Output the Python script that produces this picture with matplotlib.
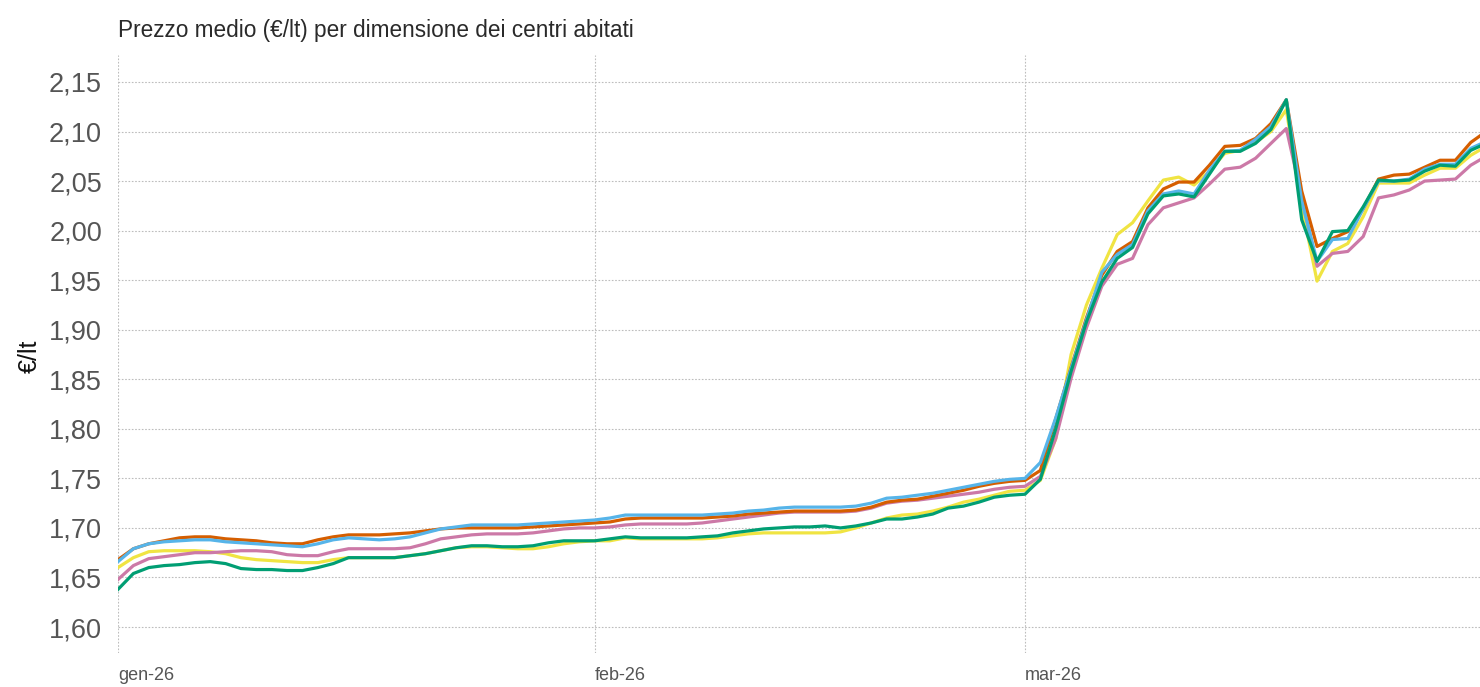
import numpy as np
import pandas as pd
import matplotlib
matplotlib.use("Agg")
import matplotlib.pyplot as plt
import matplotlib.dates as mdates

plt.rcParams['font.family'] = ['Liberation Sans', 'DejaVu Sans']

# giorni dal 1 gennaio 2026
dates = pd.date_range('2026-01-01', periods=90, freq='D')

arancio = [
    1.668, 1.679, 1.684, 1.687, 1.690, 1.691, 1.691, 1.689, 1.688, 1.687,
    1.685, 1.684, 1.684, 1.688, 1.691, 1.693, 1.693, 1.693, 1.694, 1.695,
    1.697, 1.699, 1.700, 1.700, 1.700, 1.700, 1.700, 1.701, 1.702, 1.703,
    1.704, 1.705, 1.706, 1.709, 1.710, 1.710, 1.710, 1.710, 1.710, 1.711,
    1.712, 1.714, 1.715, 1.716, 1.717, 1.717, 1.717, 1.717, 1.718, 1.721,
    1.726, 1.728, 1.729, 1.732, 1.735, 1.738, 1.742, 1.745, 1.747, 1.748,
    1.758, 1.810, 1.862, 1.912, 1.955, 1.979, 1.989, 2.023, 2.042, 2.049,
    2.049, 2.066, 2.085, 2.086, 2.093, 2.108, 2.132, 2.040, 1.984, 1.992,
    1.999, 2.022, 2.052, 2.056, 2.057, 2.064, 2.071, 2.071, 2.089, 2.100,
]
azzurro = [
    1.666, 1.679, 1.684, 1.686, 1.687, 1.688, 1.688, 1.686, 1.685, 1.684,
    1.683, 1.682, 1.681, 1.684, 1.688, 1.690, 1.689, 1.688, 1.689, 1.691,
    1.695, 1.699, 1.701, 1.703, 1.703, 1.703, 1.703, 1.704, 1.705, 1.706,
    1.707, 1.708, 1.710, 1.713, 1.713, 1.713, 1.713, 1.713, 1.713, 1.714,
    1.715, 1.717, 1.718, 1.720, 1.721, 1.721, 1.721, 1.721, 1.722, 1.725,
    1.730, 1.731, 1.733, 1.735, 1.738, 1.741, 1.744, 1.747, 1.749, 1.750,
    1.766, 1.811, 1.861, 1.910, 1.958, 1.976, 1.986, 2.020, 2.037, 2.040,
    2.037, 2.061, 2.080, 2.081, 2.092, 2.105, 2.132, 2.030, 1.969, 1.991,
    1.992, 2.022, 2.050, 2.050, 2.052, 2.062, 2.067, 2.067, 2.083, 2.090,
]
rosa = [
    1.648, 1.662, 1.669, 1.671, 1.673, 1.675, 1.675, 1.676, 1.677, 1.677,
    1.676, 1.673, 1.672, 1.672, 1.676, 1.679, 1.679, 1.679, 1.679, 1.680,
    1.684, 1.689, 1.691, 1.693, 1.694, 1.694, 1.694, 1.695, 1.697, 1.699,
    1.700, 1.700, 1.701, 1.703, 1.704, 1.704, 1.704, 1.704, 1.705, 1.707,
    1.709, 1.711, 1.713, 1.715, 1.716, 1.716, 1.716, 1.716, 1.717, 1.720,
    1.725, 1.727, 1.728, 1.730, 1.732, 1.734, 1.736, 1.739, 1.741, 1.742,
    1.752, 1.790, 1.851, 1.902, 1.944, 1.966, 1.972, 2.006, 2.023, 2.028,
    2.033, 2.047, 2.062, 2.064, 2.073, 2.088, 2.103, 2.034, 1.964, 1.977,
    1.979, 1.994, 2.033, 2.036, 2.041, 2.050, 2.051, 2.052, 2.066, 2.075,
]
giallo = [
    1.660, 1.670, 1.676, 1.677, 1.677, 1.677, 1.676, 1.674, 1.670, 1.668,
    1.667, 1.666, 1.665, 1.665, 1.668, 1.670, 1.670, 1.670, 1.670, 1.672,
    1.674, 1.677, 1.680, 1.681, 1.681, 1.680, 1.679, 1.679, 1.681, 1.684,
    1.686, 1.687, 1.687, 1.690, 1.689, 1.689, 1.689, 1.689, 1.689, 1.690,
    1.692, 1.694, 1.695, 1.695, 1.695, 1.695, 1.695, 1.696, 1.700, 1.705,
    1.710, 1.713, 1.714, 1.717, 1.721, 1.726, 1.729, 1.733, 1.737, 1.738,
    1.748, 1.790, 1.875, 1.925, 1.962, 1.996, 2.008, 2.030, 2.051, 2.054,
    2.046, 2.060, 2.078, 2.081, 2.089, 2.100, 2.122, 2.025, 1.949, 1.979,
    1.987, 2.014, 2.048, 2.048, 2.048, 2.056, 2.063, 2.063, 2.076, 2.085,
]
verde = [
    1.638, 1.654, 1.660, 1.662, 1.663, 1.665, 1.666, 1.664, 1.659, 1.658,
    1.658, 1.657, 1.657, 1.660, 1.664, 1.670, 1.670, 1.670, 1.670, 1.672,
    1.674, 1.677, 1.680, 1.682, 1.682, 1.681, 1.681, 1.682, 1.685, 1.687,
    1.687, 1.687, 1.689, 1.691, 1.690, 1.690, 1.690, 1.690, 1.691, 1.692,
    1.695, 1.697, 1.699, 1.700, 1.701, 1.701, 1.702, 1.700, 1.702, 1.705,
    1.709, 1.709, 1.711, 1.714, 1.720, 1.722, 1.726, 1.731, 1.733, 1.734,
    1.749, 1.800, 1.858, 1.908, 1.948, 1.972, 1.983, 2.017, 2.035, 2.037,
    2.034, 2.057, 2.080, 2.080, 2.088, 2.102, 2.132, 2.011, 1.969, 1.999,
    2.000, 2.024, 2.051, 2.050, 2.051, 2.060, 2.066, 2.065, 2.081, 2.088,
]

month_ticks = ['2026-01-01', '2026-02-01', '2026-03-01']
month_labels = ['gen-26', 'feb-26', 'mar-26']
y_ticks = [1.60, 1.65, 1.70, 1.75, 1.80, 1.85, 1.90, 1.95, 2.00, 2.05, 2.10, 2.15]

fig = plt.figure(figsize=(14.8, 6.87), dpi=100)
ax = fig.add_axes([118 / 1480, 1 - 653 / 687, 1 - 118 / 1480, 598 / 687])

# ordine di disegno: il verde resta sopra
serie = [
    (giallo, '#F0E442'),
    (rosa, '#CC79A7'),
    (arancio, '#D55E00'),
    (azzurro, '#56B4E9'),
    (verde, '#009E73'),
]
for vals, col in serie:
    ax.plot(dates, vals, color=col, lw=2.3, solid_joinstyle='round')

ax.set_xlim(pd.Timestamp('2026-01-01'), pd.Timestamp('2026-01-01') + pd.Timedelta(days=88.6))
ax.set_ylim(1.5738, 2.1772)

ax.set_yticks(y_ticks)
ax.set_yticklabels([f'{v:.2f}'.replace('.', ',') for v in y_ticks])
ax.set_xticks(pd.to_datetime(month_ticks))
ax.set_xticklabels(month_labels, ha='left')

ax.tick_params(axis='y', length=0, pad=11.5, labelsize=19.5, labelcolor='#555555')
ax.tick_params(axis='x', length=0, pad=10, labelsize=13, labelcolor='#555555')

ax.grid(True, color='#bdbdbd', lw=0.8, linestyle=(0, (1.5, 1.5)))
ax.set_axisbelow(True)
for s in ax.spines.values():
    s.set_visible(False)

fig.text(118 / 1480, 1 - 30 / 687, 'Prezzo medio (€/lt) per dimensione dei centri abitati',
         fontsize=16.3, color='#2a2a2a', va='center', ha='left')
fig.text(30 / 1480, 1 - 356 / 687, '€/lt', rotation=90, fontsize=18,
         color='#111111', va='center', ha='center')

fig.savefig('out.png', dpi=100)
